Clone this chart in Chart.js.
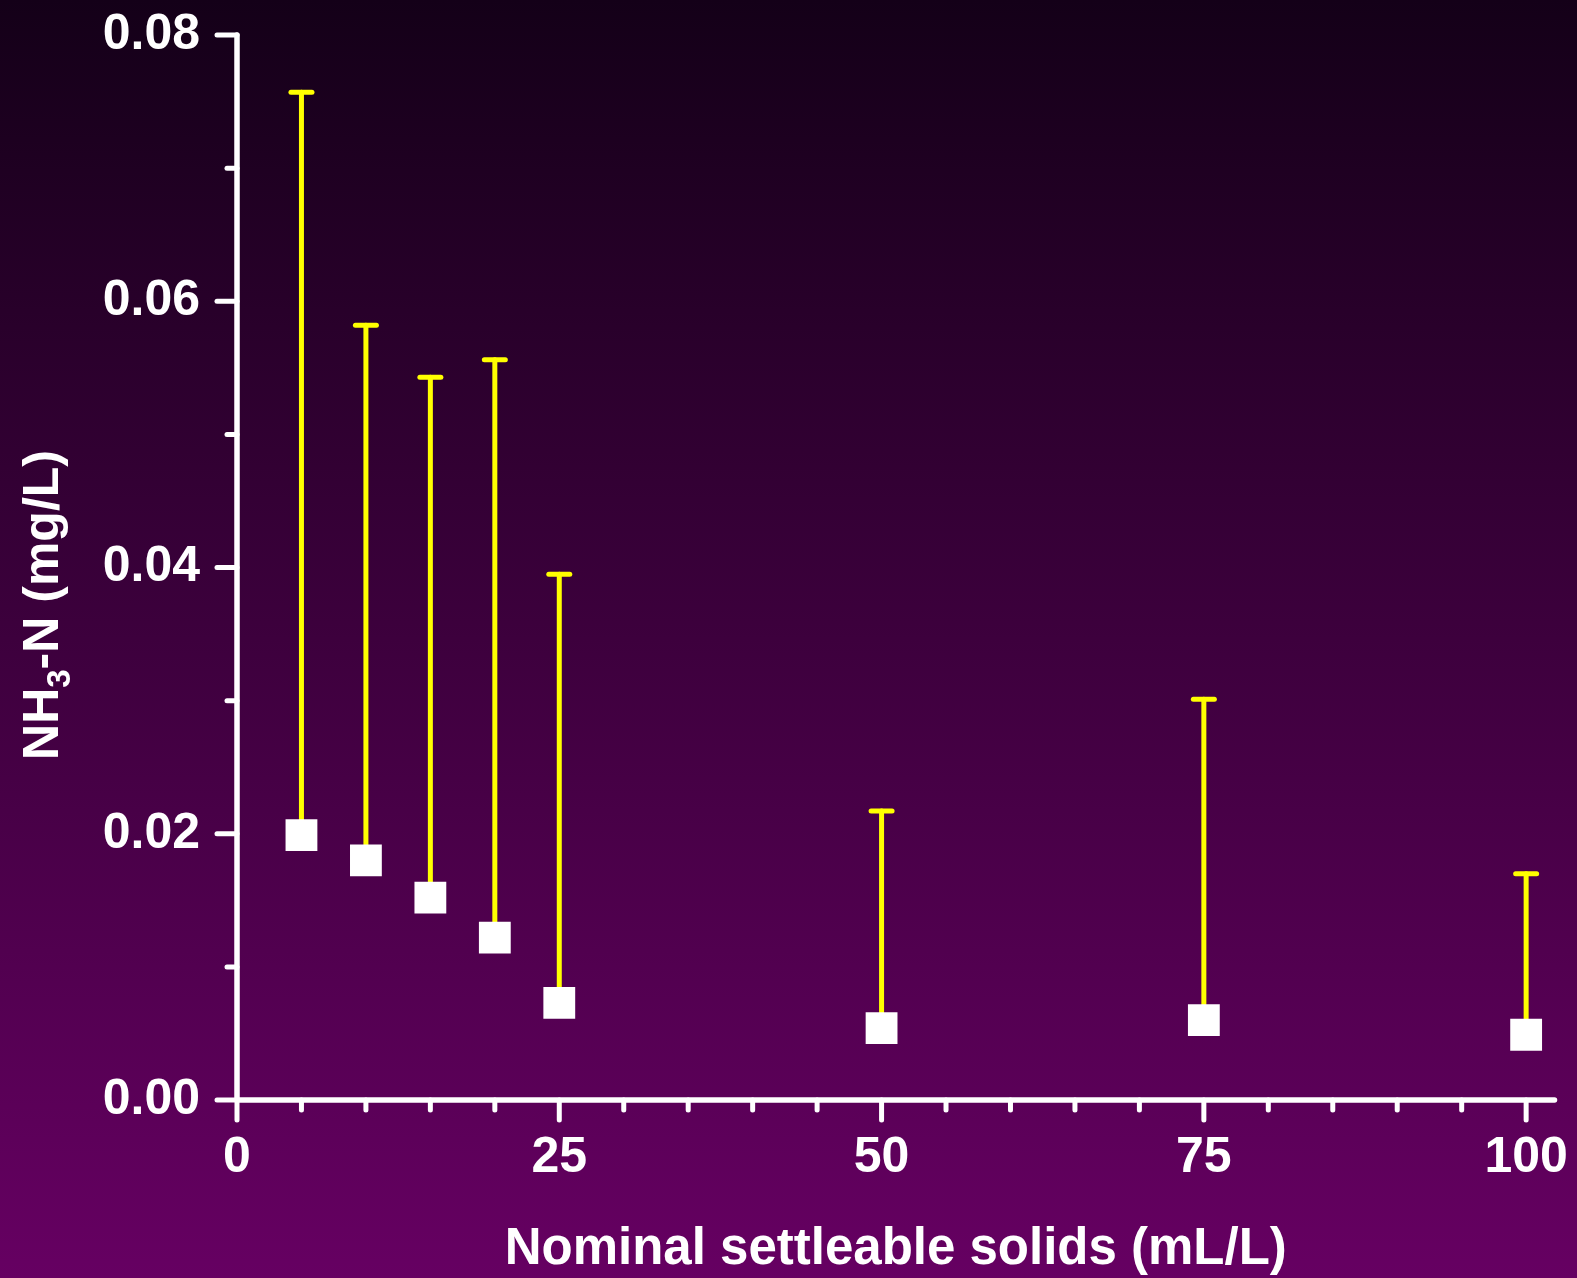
<!DOCTYPE html>
<html>
<head>
<meta charset="utf-8">
<title>NH3-N vs nominal settleable solids</title>
<script src="https://cdn.jsdelivr.net/npm/chart.js@4/dist/chart.umd.min.js"></script>
<style>
  html, body { margin: 0; padding: 0; overflow: hidden; background: #3a0038; }
  #wrap { position: relative; width: 1577px; height: 1278px; }
</style>
</head>
<body>
<div id="wrap"><canvas id="chart"></canvas></div>
<script>
// Nominal settleable solids (mL/L)
const solids = [5, 10, 15, 20, 25, 50, 75, 100];
// Mean NH3-N (mg/L)
const meanN = [0.0199, 0.0180, 0.0152, 0.0122, 0.0073, 0.0054, 0.0060, 0.0049];
// Upper end of the error bar (mg/L)
const upperN = [0.0757, 0.0582, 0.0543, 0.0556, 0.0395, 0.0217, 0.0301, 0.0170];

// Axis ticks
const xTickValues = [0, 5, 10, 15, 20, 25, 30, 35, 40, 45, 50, 55, 60, 65, 70, 75, 80, 85, 90, 95, 100];
const xTickLabels = ['0', '25', '50', '75', '100'];
const yTickValues = [0, 0.01, 0.02, 0.03, 0.04, 0.05, 0.06, 0.07, 0.08];
const yTickLabels = ['0.00', '0.02', '0.04', '0.06', '0.08'];
const xAxisEnd = 102.2;
const yAxisEnd = 0.08;

const FONT = '"Liberation Sans", Arial, Helvetica, sans-serif';

const isXMajor = v => xTickLabels.includes(String(v));
const isYMajor = v => yTickLabels.includes(v.toFixed(2));

const backgroundPlugin = {
  id: 'bg',
  beforeDraw(chart) {
    const { ctx, width, height } = chart;
    const g = ctx.createLinearGradient(0, 0, 0, height);
    g.addColorStop(0, 'rgb(20,0,24)');
    g.addColorStop(1, 'rgb(102,0,98)');
    ctx.save();
    ctx.fillStyle = g;
    ctx.fillRect(0, 0, width, height);
    ctx.restore();
  }
};

function seg(ctx, x1, y1, x2, y2) {
  ctx.beginPath();
  ctx.moveTo(x1, y1);
  ctx.lineTo(x2, y2);
  ctx.stroke();
}

const axesAndBarsPlugin = {
  id: 'axesBars',
  beforeDatasetsDraw(chart) {
    const { ctx } = chart;
    const xs = chart.scales.x, ys = chart.scales.y;
    const x0 = xs.getPixelForValue(0);
    const y0 = ys.getPixelForValue(0);
    ctx.save();
    ctx.lineCap = 'round';
    ctx.strokeStyle = '#ffffff';
    ctx.lineWidth = 5.5;
    // axis lines
    seg(ctx, x0, ys.getPixelForValue(yAxisEnd), x0, y0);
    seg(ctx, x0, y0, xs.getPixelForValue(xAxisEnd), y0);
    ctx.lineWidth = 5;
    // y ticks
    yTickValues.forEach(v => {
      const py = ys.getPixelForValue(v);
      seg(ctx, x0 - (isYMajor(v) ? 20 : 10), py, x0, py);
    });
    // x ticks
    xTickValues.forEach(v => {
      const px = xs.getPixelForValue(v);
      seg(ctx, px, y0, px, y0 + (isXMajor(v) ? 20 : 10));
    });
    // upper error bars
    ctx.strokeStyle = '#ffff00';
    ctx.lineWidth = 5;
    solids.forEach((s, i) => {
      const px = xs.getPixelForValue(s);
      const pm = ys.getPixelForValue(meanN[i]);
      const pu = ys.getPixelForValue(upperN[i]);
      seg(ctx, px, pm, px, pu);
      seg(ctx, px - 10.5, pu, px + 10.5, pu);
    });
    ctx.restore();
  }
};

const yTitlePlugin = {
  id: 'yTitle',
  afterDraw(chart) {
    const { ctx } = chart;
    const big = 'bold 50px ' + FONT;
    const small = 'bold 33px ' + FONT;
    const parts = [
      { t: 'NH', f: big, dy: 0 },
      { t: '3', f: small, dy: 12 },
      { t: '-N (mg/L)', f: big, dy: 0 }
    ];
    ctx.save();
    let total = 0;
    parts.forEach(p => { ctx.font = p.f; p.w = ctx.measureText(p.t).width; total += p.w; });
    ctx.translate(58, 605);
    ctx.rotate(-Math.PI / 2);
    ctx.fillStyle = '#ffffff';
    ctx.textBaseline = 'alphabetic';
    ctx.textAlign = 'left';
    let cx = -total / 2;
    parts.forEach(p => {
      ctx.font = p.f;
      ctx.fillText(p.t, cx, p.dy);
      cx += p.w;
    });
    ctx.restore();
  }
};

new Chart(document.getElementById('chart'), {
  type: 'scatter',
  data: {
    datasets: [{
      label: 'NH3-N',
      data: solids.map((s, i) => ({ x: s, y: meanN[i] })),
      pointStyle: 'rect',
      pointRadius: 22.5,
      pointHoverRadius: 22.5,
      backgroundColor: '#ffffff',
      borderColor: '#ffffff',
      borderWidth: 0
    }]
  },
  options: {
    responsive: true,
    maintainAspectRatio: false,
    animation: false,
    events: [],
    layout: { padding: { left: 0, right: 19, top: 35, bottom: 0 } },
    plugins: {
      legend: { display: false },
      tooltip: { enabled: false }
    },
    scales: {
      x: {
        type: 'linear',
        min: 0,
        max: xAxisEnd,
        afterBuildTicks: s => { s.ticks = xTickValues.map(v => ({ value: v })); },
        afterFit: s => { s.height = 178; s.paddingLeft = 0; s.paddingRight = 0; },
        grid: { display: false, drawTicks: false },
        border: { display: false },
        ticks: {
          autoSkip: false,
          maxRotation: 0,
          padding: 28,
          color: '#ffffff',
          font: { family: FONT, size: 50, weight: 'bold' },
          callback: v => (isXMajor(v) ? String(v) : '')
        },
        title: {
          display: true,
          text: 'Nominal settleable solids (mL/L)',
          color: '#ffffff',
          font: { family: FONT, size: 51, weight: 'bold' },
          padding: { top: 0, bottom: -3 }
        }
      },
      y: {
        type: 'linear',
        min: 0,
        max: yAxisEnd,
        afterBuildTicks: s => { s.ticks = yTickValues.map(v => ({ value: v })); },
        afterFit: s => { s.width = 237; s.paddingTop = 0; s.paddingBottom = 0; },
        grid: { display: false, drawTicks: false },
        border: { display: false },
        ticks: {
          autoSkip: false,
          padding: 37,
          color: '#ffffff',
          font: { family: FONT, size: 50, weight: 'bold' },
          callback: v => (isYMajor(v) ? v.toFixed(2) : '')
        }
      }
    }
  },
  plugins: [backgroundPlugin, axesAndBarsPlugin, yTitlePlugin]
});
</script>
</body>
</html>
